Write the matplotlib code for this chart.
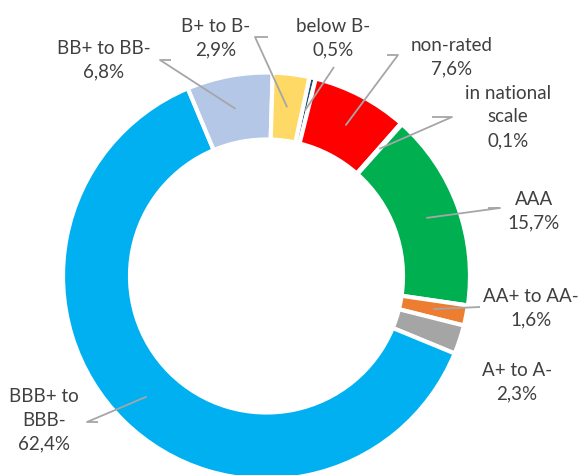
import matplotlib.pyplot as plt
import numpy as np

categorias = ['below B-', 'non-rated', 'in national\nscale', 'AAA', 'AA+ to AA-',
              'A+ to A-', 'BBB+ to\nBBB-', 'BB+ to BB-', 'B+ to B-']
valores = [0.5, 7.6, 0.1, 15.7, 1.6, 2.3, 62.4, 6.8, 2.9]
cores = ['#1F4E79', '#FF0000', '#7F7F7F', '#00B050', '#ED7D31',
         '#A5A5A5', '#00B0F0', '#B4C7E7', '#FFD966']

# posicao do texto (centro) e cotovelo da linha guia, em pixels da imagem
pos_texto = [(333, 38), (452, 57), (508, 117), (534, 211), (531, 308),
             (517, 382), (44, 420), (104, 60), (216, 38)]
cotovelo = [(334, 67), (398, 55), (452, 117), (500, 208), (480, 307),
            None, (87, 422), (160, 60), (255, 37)]
pos_fim_linha = [None, (387, 55), (432, 117), (488, 208), None,
                 None, (98, 422), (171, 60), (268, 37)]

centro = (266.5, 276)
raio = 203.5
largura = 67

plt.rcParams['font.family'] = ['Lato', 'DejaVu Sans']
fig = plt.figure(figsize=(5.81, 4.75), dpi=100)
ax = fig.add_axes([0, 0, 1, 1])

wedges, _ = ax.pie(valores, colors=cores, startangle=-77.8, counterclock=True,
                   radius=raio, center=centro,
                   wedgeprops=dict(width=largura, edgecolor='white', linewidth=3))

ax.set_xlim(0, 581)
ax.set_ylim(475, 0)
ax.set_aspect('equal')
ax.axis('off')

r_meio = raio - largura / 2
for w, val, cat, pt, cv, fl in zip(wedges, valores, categorias, pos_texto,
                                   cotovelo, pos_fim_linha):
    ang = np.deg2rad((w.theta1 + w.theta2) / 2)
    ax_x = centro[0] + r_meio * np.cos(ang)
    ax_y = centro[1] + r_meio * np.sin(ang)
    texto = f"{cat}\n{val:.1f}%".replace('.', ',')
    ax.text(pt[0], pt[1], texto, ha='center', va='center', multialignment='center',
            fontsize=13.5, color='#404040', linespacing=1.47)
    if cv is not None:
        xs = [ax_x, cv[0]]
        ys = [ax_y, cv[1]]
        if fl is not None:
            xs.append(fl[0])
            ys.append(fl[1])
        ax.plot(xs, ys, color='#A6A6A6', linewidth=1.3, solid_capstyle='butt')

plt.savefig('out.png', dpi=100)
